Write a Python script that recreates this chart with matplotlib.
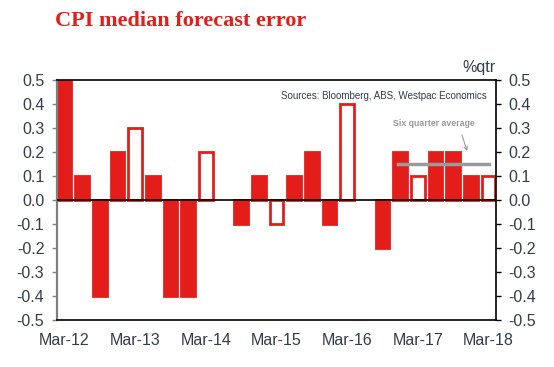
import numpy as np
import matplotlib
matplotlib.use("Agg")
import matplotlib.pyplot as plt

# quarterly CPI median forecast error, Mar-12 .. Mar-18
quarters = ["Mar-12", "Jun-12", "Sep-12", "Dec-12", "Mar-13", "Jun-13", "Sep-13", "Dec-13",
            "Mar-14", "Jun-14", "Sep-14", "Dec-14", "Mar-15", "Jun-15", "Sep-15", "Dec-15",
            "Mar-16", "Jun-16", "Sep-16", "Dec-16", "Mar-17", "Jun-17", "Sep-17", "Dec-17",
            "Mar-18"]
errors = [0.5, 0.1, -0.4, 0.2, 0.3, 0.1, -0.4, -0.4,
          0.2, 0.0, -0.1, 0.1, -0.1, 0.1, 0.2, -0.1,
          0.4, 0.0, -0.2, 0.2, 0.1, 0.2, 0.2, 0.1,
          0.1]
# March quarters (after the first) drawn as hollow bars
hollow = [q.startswith("Mar") and i > 0 for i, q in enumerate(quarters)]
yticks = [0.5, 0.4, 0.3, 0.2, 0.1, 0.0, -0.1, -0.2, -0.3, -0.4, -0.5]

red = "#E31D1A"
grey = "#9A9A9A"
txt = "#343B4A"
plt.rcParams["font.family"] = ["Liberation Sans", "DejaVu Sans"]

fig = plt.figure(figsize=(5.54, 3.67), dpi=100)
ax = fig.add_axes([0.1029, 0.128, 0.7924, 0.654])

x = np.arange(len(quarters))
faces = ["white" if h else red for h in hollow]
edges = [red if v != 0 else "none" for v in errors]
ax.bar(x, errors, width=0.78, color=faces, edgecolor=edges, linewidth=2.0, zorder=2)

ax.axhline(0, color="black", lw=1.2, zorder=3)

# six quarter average
avg = np.mean(errors[-6:])
ax.plot([len(x) - 6 - 0.12, len(x) - 1 + 0.03], [avg, avg], color=grey, lw=2.5, zorder=4)
ax.text(20.9, 0.317, "Six quarter average", ha="center", va="center",
        fontsize=6.3, fontweight="bold", color=grey)
ax.annotate("", xy=(22.84, 0.193), xytext=(22.44, 0.282),
            arrowprops=dict(arrowstyle="->", color=grey, lw=0.8, mutation_scale=6))

ax.set_xlim(-0.42, len(x) - 0.58)
ax.set_ylim(-0.5, 0.5)
ax.set_yticks(yticks)
ax.set_yticklabels([f"{v:.1f}" for v in yticks])
ax.set_xticks(x[::4])
ax.set_xticklabels(quarters[::4])
ax.tick_params(axis="x", length=0, labelsize=11.5, colors=txt, pad=9)
ax.tick_params(axis="y", direction="out", length=3.6, width=1, color="#808080",
               labelsize=11.5, labelcolor=txt, pad=5.5)
for s in ax.spines.values():
    s.set_color("black")
    s.set_linewidth(1.2)
ax.spines["left"].set_color("#808080")
ax.spines["left"].set_linewidth(1.6)

ax2 = ax.twinx()
ax2.set_ylim(-0.5, 0.5)
ax2.set_yticks(yticks)
ax2.set_yticklabels([f"{v:.1f}" for v in yticks])
ax2.tick_params(axis="y", direction="out", length=3.6, width=1, color="black",
                labelsize=11.5, labelcolor=txt, pad=5.5)
for s in ax2.spines.values():
    s.set_visible(False)

ax.text(0.979, 0.955, "Sources: Bloomberg, ABS, Westpac Economics", transform=ax.transAxes,
        ha="right", va="top", fontsize=7, color=txt)
ax.text(1.0, 1.02, "%qtr", transform=ax.transAxes, ha="right", va="bottom",
        fontsize=11.5, color=txt)

fig.text(55 / 554, 1 - 21 / 367, "CPI median forecast error", ha="left", va="center",
         fontsize=16, fontweight="bold", color=red, family="Liberation Serif")

fig.savefig("out.png", dpi=100)
